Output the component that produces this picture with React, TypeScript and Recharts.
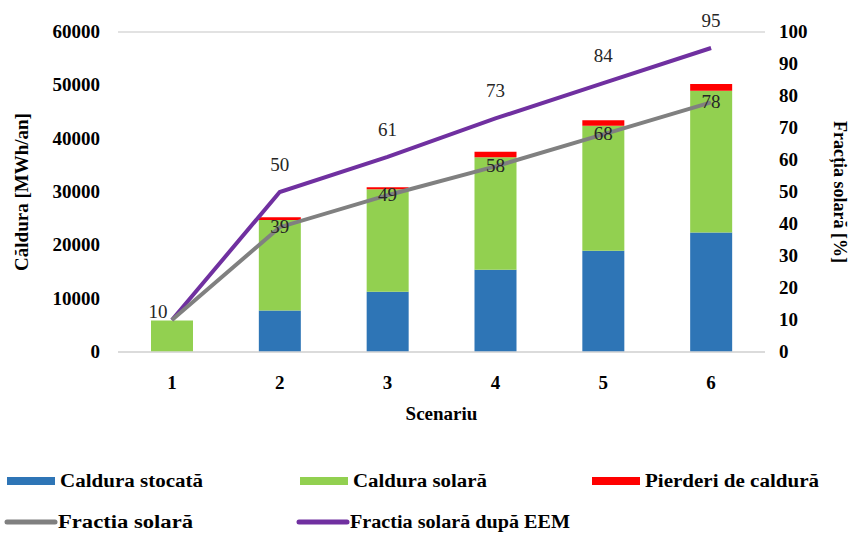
import {
  ComposedChart,
  Bar,
  Line,
  XAxis,
  YAxis,
  CartesianGrid,
  LabelList,
  Customized,
} from "recharts";

const scenarios = ["1", "2", "3", "4", "5", "6"];
const stored = [0, 7800, 11300, 15400, 19000, 22400];
const solar = [5900, 16950, 19200, 21100, 23400, 26600];
const losses = [0, 500, 400, 1050, 1050, 1250];
const fraction = [10, 39, 49, 58, 68, 78];
const fractionEem = [10, 50, 61, 73, 84, 95];

const leftTicks = [0, 10000, 20000, 30000, 40000, 50000, 60000];
const rightTicks = [0, 10, 20, 30, 40, 50, 60, 70, 80, 90, 100];

const legendItems = [
  { name: "Caldura stocată", color: "#2e75b6", kind: "bar", x: 7, y: 481, w: 143 },
  { name: "Caldura solară", color: "#92d050", kind: "bar", x: 300, y: 481, w: 134 },
  { name: "Pierderi de caldură", color: "#ff0000", kind: "bar", x: 592, y: 481, w: 174 },
  { name: "Fractia solară", color: "#808080", kind: "line", x: 5, y: 522, w: 135 },
  { name: "Fractia solară după EEM", color: "#7030a0", kind: "line", x: 297, y: 522, w: 220 },
];

const data = scenarios.map((s, i) => ({
  scenario: s,
  stored: stored[i],
  solar: solar[i],
  losses: losses[i],
  fraction: fraction[i],
  fractionEem: fractionEem[i],
}));

const serif = { fontFamily: "'Liberation Serif', 'Times New Roman', Tinos, 'DejaVu Serif', serif" };

const LegendBlock = () => (
  <g>
    {legendItems.map((it) => (
      <g key={it.name}>
        {it.kind === "bar" ? (
          <rect x={it.x} y={it.y - 4} width={48} height={8} fill={it.color} />
        ) : (
          <line x1={it.x + 2} x2={it.x + 50} y1={it.y} y2={it.y} stroke={it.color} strokeWidth={5} strokeLinecap="round" />
        )}
        <text
          x={it.x + 53}
          y={it.y + 6}
          style={serif}
          fontWeight="bold"
          fontSize={18}
          fill="#000"
          textLength={it.w}
          lengthAdjust="spacingAndGlyphs"
        >
          {it.name}
        </text>
      </g>
    ))}
  </g>
);

const grayLabel = (props: any) => {
  const { x, y, value, index } = props;
  const dx = index === 0 ? -14 : 0;
  const dy = index === 0 ? -8 : 0;
  return (
    <text x={x + dx} y={y + dy + 6} textAnchor="middle" style={serif} fontSize={19} fill="#262626">
      {value}
    </text>
  );
};

const purpleLabel = (props: any) => {
  const { x, y, value, index } = props;
  if (index === 0) return null;
  return (
    <text x={x} y={y - 21} textAnchor="middle" style={serif} fontSize={19} fill="#262626">
      {value}
    </text>
  );
};

export default function App() {
  return (
    <div style={{ position: "absolute", left: 0, top: 0, background: "#fff" }}>
      <ComposedChart
        width={855}
        height={533}
        data={data}
        margin={{ top: 32, right: 0, bottom: 121, left: 0 }}
        barSize={42}
      >
        <CartesianGrid vertical={false} stroke="#d9d9d9" strokeWidth={1.5} />
        <XAxis
          dataKey="scenario"
          height={60}
          axisLine={{ stroke: "#d9d9d9", strokeWidth: 1.5 }}
          tickLine={false}
          tick={(p: any) => (
            <text x={p.x} y={389} textAnchor="middle" style={serif} fontWeight="bold" fontSize={19} fill="#000">
              {p.payload.value}
            </text>
          )}
          label={{
            content: (p: any) => (
              <text
                x={p.viewBox.x + p.viewBox.width / 2}
                y={420}
                textAnchor="middle"
                style={serif}
                fontWeight="bold"
                fontSize={19}
                fill="#000"
              >
                Scenariu
              </text>
            ),
          }}
        />
        <YAxis
          yAxisId="left"
          width={118}
          domain={[0, 60000]}
          ticks={leftTicks}
          axisLine={false}
          tickLine={false}
          tick={(p: any) => (
            <text x={100} y={p.y + 6} textAnchor="end" style={serif} fontWeight="bold" fontSize={19} fill="#000">
              {p.payload.value}
            </text>
          )}
          label={{
            content: () => (
              <text
                x={28}
                y={192}
                transform="rotate(-90 28 192)"
                textAnchor="middle"
                style={serif}
                fontWeight="bold"
                fontSize={19}
                fill="#000"
              >
                Căldura [MWh/an]
              </text>
            ),
          }}
        />
        <YAxis
          yAxisId="right"
          orientation="right"
          width={90}
          domain={[0, 100]}
          ticks={rightTicks}
          axisLine={false}
          tickLine={false}
          tick={(p: any) => (
            <text x={779} y={p.y + 6} textAnchor="start" style={serif} fontWeight="bold" fontSize={19} fill="#000">
              {p.payload.value}
            </text>
          )}
          label={{
            content: () => (
              <text
                x={834}
                y={192}
                transform="rotate(90 834 192)"
                textAnchor="middle"
                style={serif}
                fontWeight="bold"
                fontSize={18}
                fill="#000"
              >
                Fracția solară [%]
              </text>
            ),
          }}
        />
        <Bar yAxisId="left" dataKey="stored" stackId="a" fill="#2e75b6" isAnimationActive={false} />
        <Bar yAxisId="left" dataKey="solar" stackId="a" fill="#92d050" isAnimationActive={false} />
        <Bar yAxisId="left" dataKey="losses" stackId="a" fill="#ff0000" isAnimationActive={false} />
        <Line
          yAxisId="right"
          dataKey="fractionEem"
          type="linear"
          stroke="#7030a0"
          strokeWidth={4}
          dot={false}
          isAnimationActive={false}
        >
          <LabelList dataKey="fractionEem" content={purpleLabel} />
        </Line>
        <Line
          yAxisId="right"
          dataKey="fraction"
          type="linear"
          stroke="#808080"
          strokeWidth={4}
          dot={false}
          isAnimationActive={false}
        >
          <LabelList dataKey="fraction" content={grayLabel} />
        </Line>
        <Customized component={LegendBlock} />
      </ComposedChart>
    </div>
  );
}
